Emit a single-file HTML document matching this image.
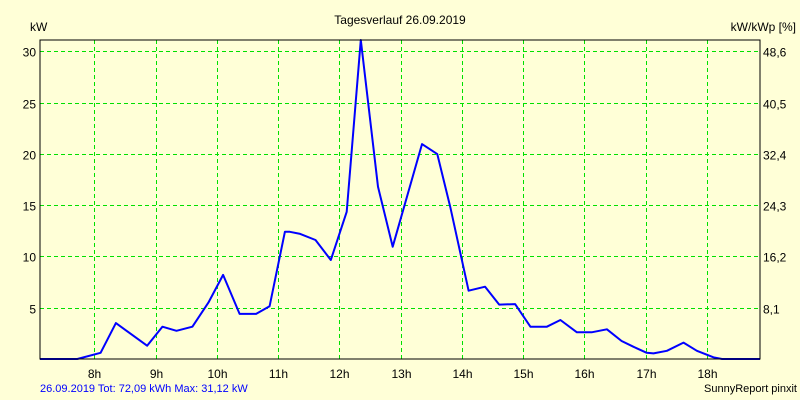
<!DOCTYPE html>
<html><head><meta charset="utf-8"><style>
body{margin:0;background:#ffffd7;}
svg{display:block;font-family:"Liberation Sans",sans-serif;}
</style></head><body>
<svg width="800" height="400">
<rect x="0" y="0" width="800" height="400" fill="#ffffd7"/>
<text x="400" y="24" font-size="12" text-anchor="middle">Tagesverlauf 26.09.2019</text>
<text x="30" y="31" font-size="12">kW</text>
<text x="796" y="31" font-size="12" text-anchor="end">kW/kWp [%]</text>
<g id="grid"></g>
<g id="marks"></g>
<rect x="40" y="40" width="720" height="319" fill="none" stroke="#000" stroke-width="1"/>
<g id="labels"></g>
<text x="40" y="392" font-size="11" fill="#0000ff">26.09.2019 Tot: 72,09 kWh Max: 31,12 kW</text>
<text x="797" y="392" font-size="11" text-anchor="end">SunnyReport pinxit</text>
</svg>
<script>
const times=[7.11,7.72,8.10,8.35,8.86,9.11,9.34,9.60,9.86,10.10,10.37,10.64,10.86,11.11,11.19,11.36,11.61,11.86,12.12,12.35,12.63,12.87,13.35,13.60,13.81,14.11,14.38,14.61,14.87,15.12,15.39,15.61,15.88,16.12,16.37,16.61,16.80,17.02,17.13,17.35,17.62,17.84,18.11,18.25,18.87];
const powerKW=[0,0,0.6,3.5,1.3,3.15,2.75,3.15,5.5,8.2,4.4,4.4,5.15,12.4,12.4,12.2,11.6,9.65,14.35,31.1,16.8,10.95,20.95,19.98,14.85,6.66,7.05,5.3,5.35,3.15,3.15,3.8,2.6,2.6,2.9,1.75,1.2,0.6,0.55,0.8,1.6,0.8,0.17,0,0];
const hourTicks=[8,9,10,11,12,13,14,15,16,17,18];
const leftTicks=[5,10,15,20,25,30];
const rightTickLabels=["8,1","16,2","24,3","32,4","40,5","48,6"];
const X0=7.11,X1=18.87,Y1=31.1;
const xs=h=>40+(h-X0)/(X1-X0)*720;
const ys=v=>359-v/Y1*319;
const NS="http://www.w3.org/2000/svg";
const grid=document.getElementById('grid'),labels=document.getElementById('labels'),marks=document.getElementById('marks');
function mk(tag,attrs,parent){const e=document.createElementNS(NS,tag);for(const k in attrs)e.setAttribute(k,attrs[k]);parent.appendChild(e);return e;}
hourTicks.forEach(h=>{
  const x=Math.round(xs(h))+0.5;
  const l=mk('line',{x1:x,x2:x,y1:40,y2:359,stroke:'#00e000','stroke-dasharray':'4,3'},grid);
  
  
  const t=mk('text',{x:x,y:378,'font-size':12,'text-anchor':'middle'},labels);
  t.textContent=h+'h';
  
  
});
leftTicks.forEach((v,i)=>{
  const y=Math.round(ys(v))+0.5;
  const l=mk('line',{x1:40,x2:760,y1:y,y2:y,stroke:'#00e000','stroke-dasharray':'4,3'},grid);
  
  
  const t=mk('text',{x:36,y:y+5,'font-size':12,'text-anchor':'end'},labels);
  t.textContent=v;
  
  
  const r=mk('text',{x:763,y:y+5,'font-size':12},labels);
  r.textContent=rightTickLabels[i];
  
  
});
const pts=times.map((h,i)=>xs(h).toFixed(1)+','+ys(powerKW[i]).toFixed(1)).join(' ');
const pl=mk('polyline',{points:pts,fill:'none',stroke:'#0000ff','stroke-width':2,'stroke-linejoin':'round'},marks);


</script>
</body></html>
